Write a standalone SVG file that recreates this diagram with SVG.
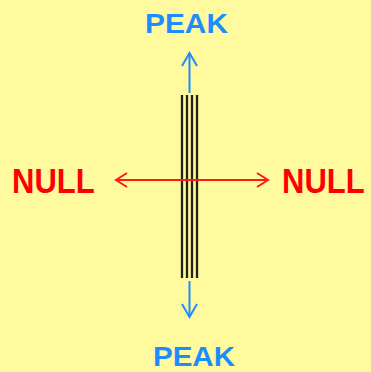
<svg xmlns="http://www.w3.org/2000/svg" width="371" height="372" viewBox="0 0 371 372">
  <style>
    .peak { font-family: "Liberation Sans", Arial, sans-serif; font-weight: bold; font-size: 28px; fill: #1e8cff; }
    .null { font-family: "Liberation Sans", Arial, sans-serif; font-weight: bold; font-size: 31px; fill: #ff0000; }
    .blue { stroke: #1e8cff; stroke-width: 2; fill: none; }
    .red { stroke: #ff1a1a; stroke-width: 2; fill: none; }
    .bar { stroke: #222218; stroke-width: 2.3; }
  </style>
  <rect width="371" height="372" fill="#fffa9e"/>
  <g id="antenna">
    <line class="bar" x1="182" y1="95" x2="182" y2="278"/>
    <line class="bar" x1="187" y1="95" x2="187" y2="278"/>
    <line class="bar" x1="192" y1="95" x2="192" y2="278"/>
    <line class="bar" x1="197" y1="95" x2="197" y2="278"/>
  </g>
  <g id="connectors">
    <line class="blue" x1="189.5" y1="53" x2="189.5" y2="93"/>
    <polyline class="blue" points="182,66 189.5,53 197,66"/>
    <line class="blue" x1="189.5" y1="281" x2="189.5" y2="317"/>
    <polyline class="blue" points="182,304 189.5,317 197,304"/>
    <line class="red" x1="116" y1="180" x2="268" y2="180"/>
    <polyline class="red" points="127,173 116,180 127,187"/>
    <polyline class="red" points="257,173 268,180 257,187"/>
  </g>
  <g id="peak-top"><text class="peak" x="145" y="33" textLength="83" lengthAdjust="spacingAndGlyphs">PEAK</text></g>
  <g id="peak-bottom"><text class="peak" x="153" y="366" textLength="82" lengthAdjust="spacingAndGlyphs">PEAK</text></g>
  <g id="null-left"><text class="null" transform="translate(12,193) scale(1,1.16)" x="0" y="0">NULL</text></g>
  <g id="null-right"><text class="null" transform="translate(282,193) scale(1,1.16)" x="0" y="0">NULL</text></g>
</svg>
